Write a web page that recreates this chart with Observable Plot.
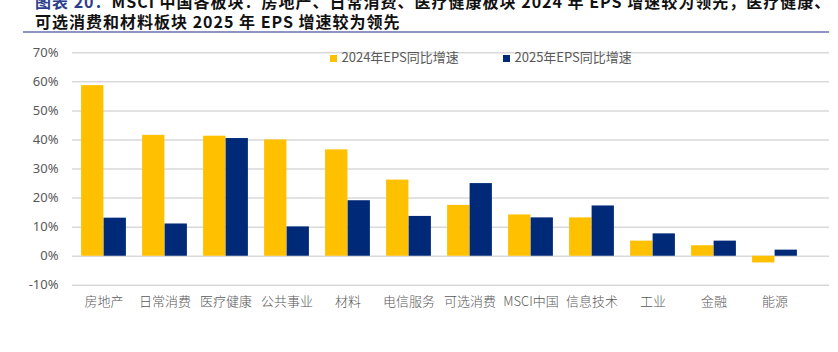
<!DOCTYPE html>
<html><head><meta charset="utf-8">
<script src="https://cdn.jsdelivr.net/npm/d3@7"></script>
<script src="https://cdn.jsdelivr.net/npm/@observablehq/plot@0.6"></script>
<style>
body{margin:0;background:#fff;}
#wrap{position:relative;width:838px;height:352px;overflow:hidden;font-family:"Noto Sans CJK SC","Noto Sans",sans-serif;background:#fff;}
#chart{position:absolute;left:0;top:0;}
.title{position:absolute;left:35px;font-size:16px;line-height:16px;height:16px;font-weight:bold;color:#111;white-space:nowrap;letter-spacing:1px;}
.title .lab{color:#2d3e8c;}
.hr{position:absolute;left:23px;width:806px;top:31px;height:1.5px;background:#8e93c2;}
.lg{position:absolute;top:48px;font-size:13px;line-height:18px;color:#595959;white-space:nowrap;}
.lg i{display:inline-block;width:7.5px;height:7.5px;margin-right:4.5px;vertical-align:0px;}
</style></head>
<body>
<div id="wrap">
  <div id="chart"></div>
  <div class="title" style="top:-7.5px"><span class="lab">图表 20：</span>MSCI 中国各板块：房地产、日常消费、医疗健康板块 2024 年 EPS 增速较为领先，医疗健康、</div>
  <div class="title" style="top:12.5px">可选消费和材料板块 2025 年 EPS 增速较为领先</div>
  <div class="hr"></div>
  <div id="legend"></div>
</div>
<script>
const categories = ["房地产","日常消费","医疗健康","公共事业","材料","电信服务","可选消费","MSCI中国","信息技术","工业","金融","能源"];
const eps2024 = [0.587, 0.416, 0.413, 0.400, 0.366, 0.262, 0.175, 0.142, 0.132, 0.052, 0.036, -0.023];
const eps2025 = [0.131, 0.111, 0.405, 0.101, 0.191, 0.137, 0.250, 0.132, 0.173, 0.077, 0.052, 0.021];
const seriesNames = ["2024年EPS同比增速", "2025年EPS同比增速"];
const seriesColors = ["#FFC000", "#002A78"];
const yTicks = [-0.1, 0, 0.1, 0.2, 0.3, 0.4, 0.5, 0.6, 0.7];

const data = categories.map((c, i) => ({cat: c, v24: eps2024[i], v25: eps2025[i]}));

const chart = Plot.plot({
  width: 838, height: 352,
  marginLeft: 72, marginRight: 9, marginTop: 52.3, marginBottom: 67.2,
  style: {fontFamily: '"Noto Sans CJK SC","Noto Sans",sans-serif', fontSize: "13px", background: "transparent"},
  x: {domain: categories, range: [72, 806], padding: 0, label: null},
  y: {domain: [-0.1, 0.7], label: null},
  marks: [
    Plot.ruleY(yTicks, {stroke: "#d9d9d9", strokeWidth: 1.5}),
    Plot.barY(data, {x: "cat", y: "v24", fill: seriesColors[0], insetLeft: 8.1, insetRight: 30.6}),
    Plot.barY(data, {x: "cat", y: "v25", fill: seriesColors[1], insetLeft: 30.6, insetRight: 8.1}),
    Plot.axisY({ticks: yTicks, tickFormat: d => Math.round(d * 100) + "%", tickSize: 0, tickPadding: 14, fontSize: 13, fill: "#595959", label: null, fontFamily: '"Noto Sans",sans-serif'}),
    Plot.axisX({tickSize: 0, tickPadding: 11, fontSize: 13, fill: "#595959", label: null, fontWeight: 300})
  ]
});
document.getElementById("chart").appendChild(chart);

const lgPos = [329.5, 502.5];
const legend = document.getElementById("legend");
seriesNames.forEach((n, i) => {
  const d = document.createElement("div");
  d.className = "lg";
  d.style.left = lgPos[i] + "px";
  d.innerHTML = `<i style="background:${seriesColors[i]}"></i>${n}`;
  legend.appendChild(d);
});
</script>
</body></html>
